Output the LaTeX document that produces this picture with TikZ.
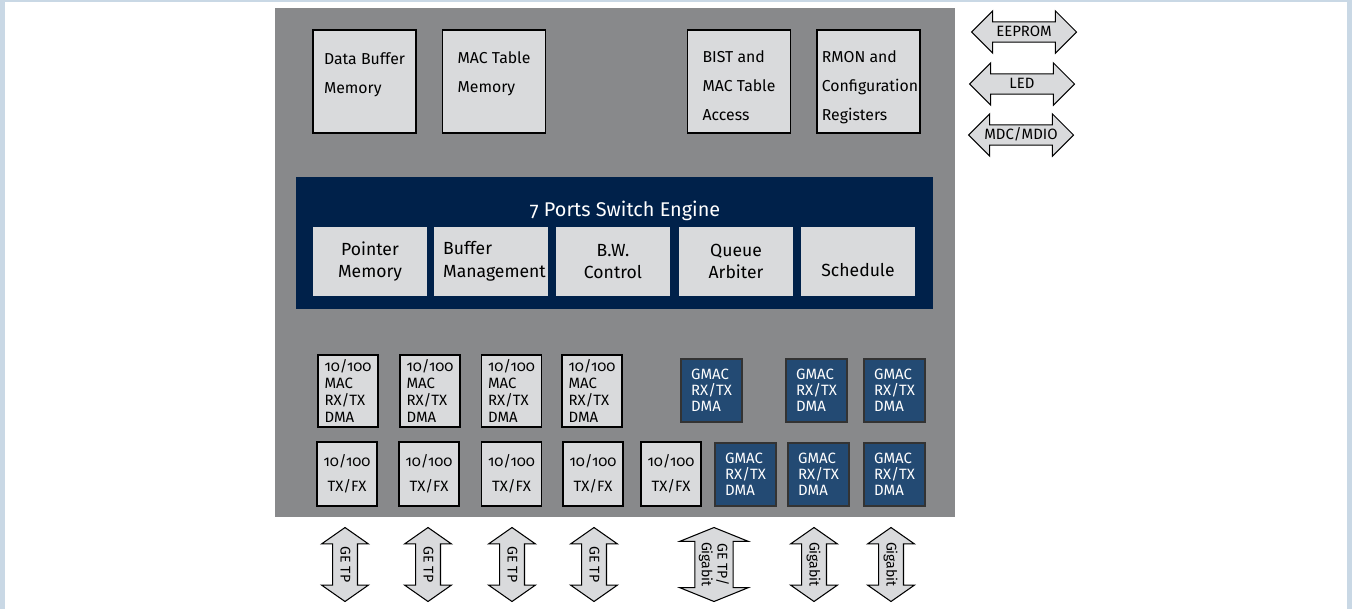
\documentclass[tikz,border=0pt]{standalone}
\usepackage{fontspec}
\setmainfont[Numbers=OldStyle]{Fira Sans}
\usetikzlibrary{shapes.arrows}

\definecolor{pagebg}{HTML}{C9D8E5}
\definecolor{chipgray}{HTML}{88898B}
\definecolor{boxgray}{HTML}{D9DADC}
\definecolor{engnavy}{HTML}{00214A}
\definecolor{gmacblue}{HTML}{234A73}

\begin{document}
\begin{tikzpicture}[x=0.02cm,y=-0.02cm]

% ----------------------------
% Styles
% ----------------------------
\tikzset{
	membox/.style={draw=black,line width=0.6pt,fill=boxgray,inner sep=0pt,
		minimum width=2.06cm,minimum height=2.06cm},
	memtext/.style={inner sep=0pt,align=left,font=\fontsize{9}{16.5}\selectfont},
	engbox/.style={fill=boxgray,inner sep=0pt,minimum width=2.28cm,minimum height=1.38cm,
		align=center,font=\fontsize{10}{13}\selectfont},
	engtext/.style={inner sep=0pt,align=left,font=\fontsize{10}{13}\selectfont},
	macbox/.style={draw=black,line width=0.6pt,fill=boxgray,inner sep=0pt,
		minimum width=1.2cm,minimum height=1.44cm,align=left,
		font=\fontsize{8.5}{9.6}\selectfont},
	phybox/.style={draw=black,line width=0.6pt,fill=boxgray,inner sep=0pt,
		minimum width=1.2cm,minimum height=1.28cm,align=center,
		font=\fontsize{8.5}{14.5}\selectfont},
	gmacbox/.style={draw=black!80,line width=0.6pt,fill=gmacblue,text=white,inner sep=0pt,
		minimum width=1.22cm,minimum height=1.26cm,align=left,
		font=\fontsize{8.5}{9}\selectfont},
	sidearr/.style={double arrow,draw=black,line width=0.6pt,fill=boxgray,
		inner xsep=0pt,inner ysep=2pt,text height=6pt,text depth=1pt,
		minimum height=2.1cm,minimum width=0pt,double arrow head extend=0.22cm,
		font=\fontsize{8.5}{9}\selectfont},
	portarr/.style={double arrow,draw=black,line width=0.6pt,fill=boxgray,
		inner xsep=0pt,inner ysep=3.3pt,text height=6pt,text depth=1pt,
		rotate=-90,minimum height=1.48cm,minimum width=0pt,
		double arrow head extend=0.22cm,double arrow tip angle=110,
		font=\fontsize{8}{9}\selectfont}
}

\useasboundingbox (0,0) rectangle (1352,609);

% page frame
\fill[white] (0,0) rectangle (1352,609);
\fill[pagebg] (0,0) rectangle (5,609);
\fill[pagebg] (0,0) rectangle (1352,2);
\fill[pagebg] (1347,0) rectangle (1352,609);

% ============================================================
% Chip body
% ============================================================
\fill[chipgray] (275,8) rectangle (955,517);

% Memories / registers (top row)
\node[membox] (databuf) at (364.5,81.5) {};
\node[membox] (mactab)  at (494,81.5)   {};
\node[membox] (bist)    at (739,81.5)   {};
\node[membox] (rmon)    at (868.5,81.5) {};
\node[memtext,yshift=0.13cm]  (databuf-t) at (databuf) {Data Buffer\\Memory};
\node[memtext,yshift=0.15cm]  (mactab-t)  at (mactab)  {MAC Table\\Memory};
\node[memtext,yshift=-0.08cm] (bist-t)    at (bist)    {BIST and\\MAC Table\\Access};
\node[memtext,yshift=-0.12cm,xshift=0.03cm] (rmon-t) at (rmon) {RMON and\\Configuration\\Registers};

% ============================================================
% Switch engine
% ============================================================
\fill[engnavy] (296,177) rectangle (933,309);
\node[text=white,font=\fontsize{11.3}{13}\selectfont] (engtitle) at (625,211) {7 Ports Switch Engine};

\node[engbox] (ptrmem) at (370,261.5) {Pointer\\Memory};
\node[engbox] (bufmgt) at (491,261.5) {};
\node[engbox] (bwctl)  at (613,261.5) {B.W.\\Control};
\node[engbox] (qarb)   at (736,261.5) {Queue\\Arbiter};
\node[engbox] (sched)  at (858,261.5) {};
\node[engtext,xshift=0.07cm]  (bufmgt-t) at (bufmgt) {Buffer\\Management};
\node[engtext,yshift=-0.17cm] (sched-t)  at (sched)  {Schedule};

% ============================================================
% MACs and PHYs
% ============================================================
\foreach \i/\x in {1/348,2/430,3/511.5,4/592}{
	\node[macbox] (mac\i) at (\x,391) {10/100\\MAC\\RX/TX\\DMA};
}
\foreach \i/\x in {1/347,2/429,3/511.5,4/593,5/671}{
	\node[phybox] (phy\i) at (\x,474) {10/100\\TX/FX};
}
\foreach \i/\x/\y in {1/711.5/390.5,2/816.5/390.5,3/894.5/390.5,
	4/745.5/474.5,5/818.5/474.5,6/894.5/474.5}{
	\node[gmacbox] (gmac\i) at (\x,\y) {GMAC\\RX/TX\\DMA};
}

% ============================================================
% Interfaces
% ============================================================
\node[sidearr] (eeprom) at (1024,32)  {EEPROM};
\node[sidearr] (led)    at (1022,84)  {LED};
\node[sidearr] (mdio)   at (1021,135) {MDC/MDIO};

\foreach \i/\x in {1/345,2/428,3/512,4/594}{
	\node[portarr] (port\i) at (\x,564.5) {GE TP};
}
\node[portarr,text height=,text depth=,inner ysep=2pt,double arrow head extend=0.3cm,
	double arrow tip angle=136,align=center] (port5) at (714,564.5) {GE TP/\\Gigabit};
\node[portarr] (port6) at (814,564.5) {Gigabit};
\node[portarr] (port7) at (891,564.5) {Gigabit};
\end{tikzpicture}
\end{document}
